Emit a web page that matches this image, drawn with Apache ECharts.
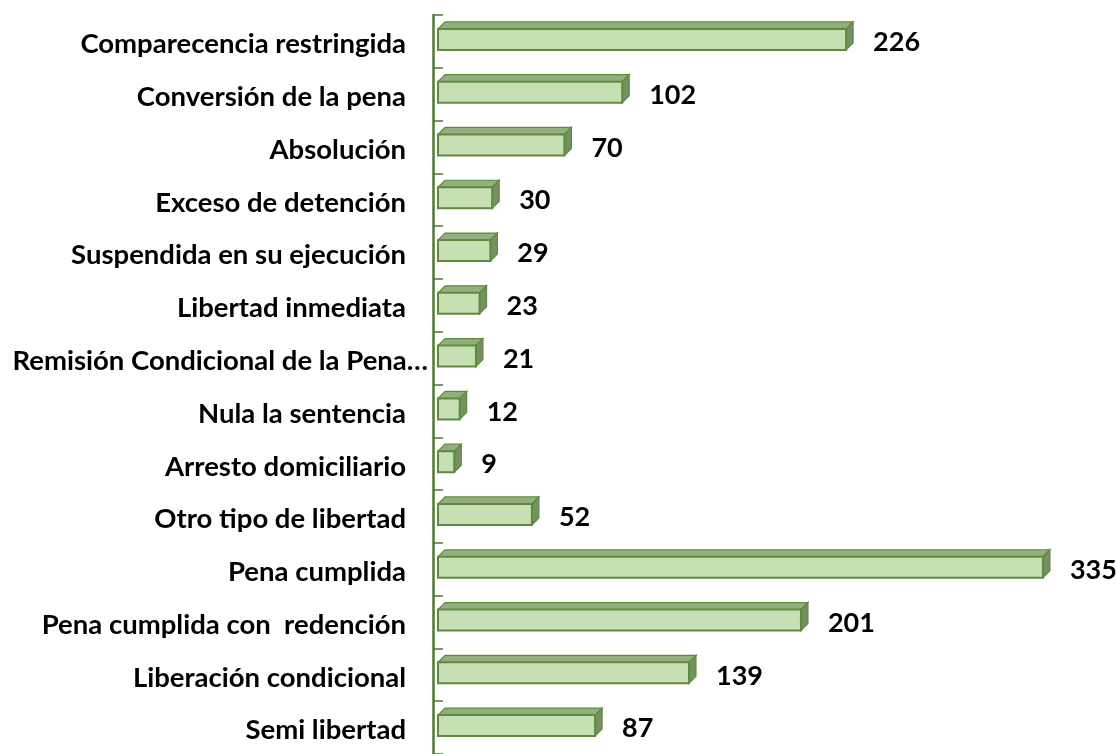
<!DOCTYPE html>
<html>
<head>
<meta charset="utf-8">
<script src="https://cdn.jsdelivr.net/npm/echarts@6/dist/echarts.min.js"></script>
<style>
  html, body { margin: 0; padding: 0; background: #fff; }
  #chart { width: 1116px; height: 754px; }
</style>
</head>
<body>
<div id="chart"></div>
<script>
// categorías (de arriba hacia abajo) y valores
const categories = [
  'Comparecencia restringida',
  'Conversión de la pena',
  'Absolución',
  'Exceso de detención',
  'Suspendida en su ejecución',
  'Libertad inmediata',
  'Remisión Condicional de la Pena…',
  'Nula la sentencia',
  'Arresto domiciliario',
  'Otro tipo de libertad',
  'Pena cumplida',
  'Pena cumplida con  redención',
  'Liberación condicional',
  'Semi libertad'
];
const values = [226, 102, 70, 30, 29, 23, 21, 12, 9, 52, 335, 201, 139, 87];

const LONG_LABEL = 'Remisión Condicional de la Pena…';
const GAP = 5;      // separación entre eje y cara frontal
const DEPTH = 7;
const FRONT_H = 21;

const chart = echarts.init(document.getElementById('chart'), null, { renderer: 'canvas' });

// barra "3D": cara superior + lateral + frontal + etiqueta de valor
function renderBar(params, api) {
  const v = api.value(0);
  const idx = api.value(1);
  const p0 = api.coord([0, idx]);
  const p1 = api.coord([v, idx]);
  const x0 = p0[0] + GAP, x1 = p1[0] + GAP;
  const c = p0[1] - 2;
  const top = c - FRONT_H / 2, bot = c + FRONT_H / 2;
  return {
    type: 'group',
    children: [
      {
        type: 'polygon',
        shape: { points: [[x0, top], [x1, top], [x1 + DEPTH, top - DEPTH], [x0 + DEPTH, top - DEPTH]] },
        style: { fill: '#93ae7f', stroke: '#5e8b3d', lineWidth: 1.2 }
      },
      {
        type: 'polygon',
        shape: { points: [[x1, top], [x1 + DEPTH, top - DEPTH], [x1 + DEPTH, bot - DEPTH], [x1, bot]] },
        style: { fill: '#75915f', stroke: '#5e8b3d', lineWidth: 1.2 }
      },
      {
        type: 'rect',
        shape: { x: x0, y: top, width: x1 - x0, height: FRONT_H },
        style: { fill: '#c6e0b4', stroke: '#5e8b3d', lineWidth: 2 }
      },
      {
        type: 'text',
        style: {
          text: String(v),
          x: x1 + DEPTH + 20, y: c + 3,
          align: 'left', verticalAlign: 'middle',
          font: 'bold 27px Lato, sans-serif',
          fill: '#000'
        }
      }
    ]
  };
}

const option = {
  animation: false,
  grid: { left: 433, top: 15, width: 632, height: 743, containLabel: false },
  xAxis: { type: 'value', min: 0, max: 350, show: false },
  yAxis: {
    type: 'category',
    data: categories,
    inverse: true,
    axisLine: { show: true, lineStyle: { color: '#4f7a32', width: 2.5 } },
    axisTick: { show: true, inside: true, length: 10, lineStyle: { color: '#4f7a32', width: 1.5 } },
    axisLabel: {
      margin: 5,
      formatter: v => v === LONG_LABEL ? '{b|' + v + '}' : '{a|' + v + '}',
      rich: {
        a: { fontFamily: 'Lato, sans-serif', fontWeight: 'bold', fontSize: 27.5, color: '#000', padding: [6, 22, 0, 0] },
        b: { fontFamily: 'Lato, sans-serif', fontWeight: 'bold', fontSize: 27.5, color: '#000', padding: [6, 0, 0, 0] }
      }
    },
    splitLine: { show: false }
  },
  series: [{
    type: 'custom',
    renderItem: renderBar,
    encode: { x: 0, y: 1 },
    data: values.map((v, i) => [v, i])
  }]
};

chart.setOption(option);
</script>
</body>
</html>
